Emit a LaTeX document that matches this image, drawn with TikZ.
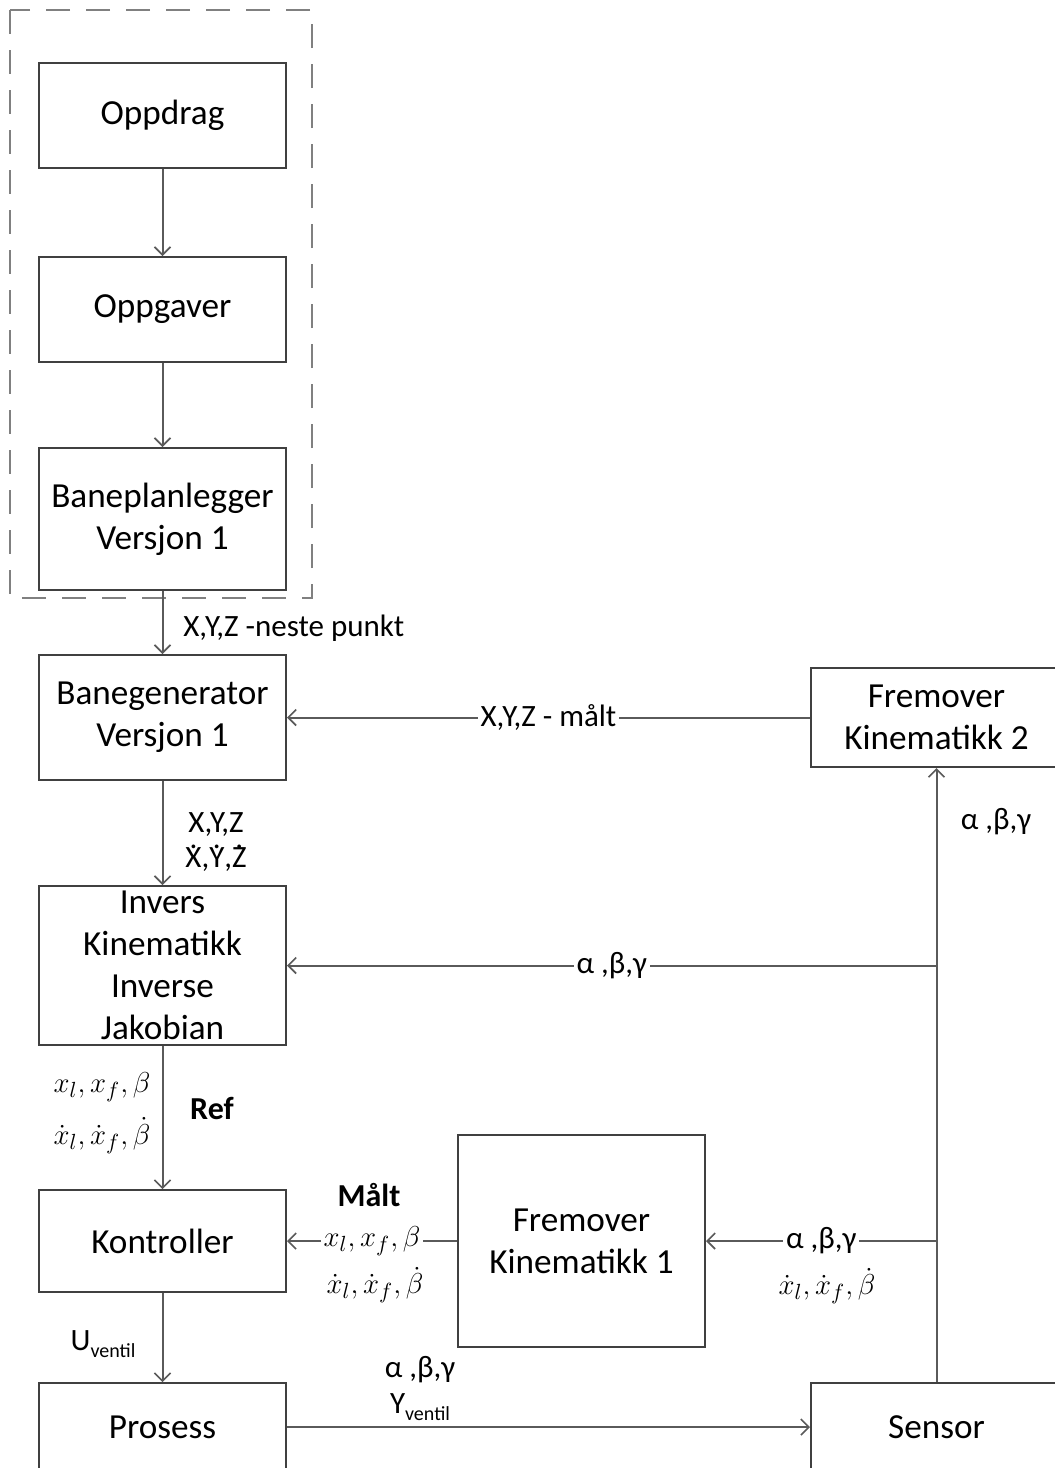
\documentclass[tikz,border=0pt]{standalone}
\usepackage{fontspec}
\setmainfont{Carlito}
\usetikzlibrary{arrows.meta}
\definecolor{boxgray}{HTML}{404040}
\definecolor{linegray}{HTML}{5A5A5A}
\definecolor{dashgray}{HTML}{808080}
% subscript set as small text, and a dot placed over a capital letter
\newcommand{\sub}[1]{\raisebox{-0.45ex}{\fontsize{10}{10}\selectfont #1}}
\newcommand{\dotcap}[1]{{\ooalign{#1\cr\hidewidth\raisebox{0.62em}{.}\hidewidth\cr}}}
\begin{document}
\begin{tikzpicture}[x=0.5pt,y=-0.5pt,
  blk/.style={draw=boxgray, line width=1pt, inner sep=0pt, align=center,
    font=\fontsize{17.6}{21}\selectfont},
  conn/.style={draw=linegray, line width=1pt,
    -{Straight Barb[length=4pt,width=8pt,line width=0.8pt]}},
  lbl/.style={font=\fontsize{15.5}{17.5}\selectfont, inner sep=0.5pt, align=center},
  onl/.style={lbl, fill=white, inner xsep=1.5pt},
  mth/.style={font=\fontsize{15}{19}\selectfont, inner sep=0pt},
  bold/.style={lbl, font=\fontsize{16}{17}\selectfont\bfseries}
]
\clip (0,0) rectangle (1055,1468);
\fill[white] (0,0) rectangle (1055,1468);

% planning group frame
\draw[dashgray, line width=1.2pt, dash pattern=on 12pt off 8pt] (10,10) rectangle (312,598);

% blocks
\node[blk, minimum width=123.5pt, minimum height=52.5pt] (opd) at (162.5,115.5) {Oppdrag};
\node[blk, minimum width=123.5pt, minimum height=52.5pt] (opg) at (162.5,309.5) {Oppgaver};
\node[blk, minimum width=123.5pt, minimum height=71pt]   (bpl) at (162.5,519)   {Baneplanlegger\\Versjon 1};
\node[blk, minimum width=123.5pt, minimum height=62.5pt] (bgn) at (162.5,717.5) {Banegenerator\\Versjon 1};
\node[blk, minimum width=123.5pt, minimum height=79.5pt] (inv) at (162.5,965.5) {Invers\\Kinematikk\\Inverse\\Jakobian};
\node[blk, minimum width=123.5pt, minimum height=51pt]   (kon) at (162.5,1241)  {Kontroller};
\node[blk, minimum width=123.5pt, minimum height=44pt]   (pro) at (162.5,1427)  {Prosess};
\node[blk, minimum width=125.5pt, minimum height=49.5pt] (fk2) at (936.5,717.5) {Fremover\\Kinematikk 2};
\node[blk, minimum width=123.5pt, minimum height=106pt]  (fk1) at (581.5,1241)  {Fremover\\Kinematikk 1};
\node[blk, minimum width=125.5pt, minimum height=44pt]   (sen) at (936.5,1427)  {Sensor};

% junctions on the sensor feedback line
\coordinate (ja) at (sen.north |- inv.east);
\coordinate (jb) at (sen.north |- fk1.east);

% main chain
\draw[conn] (opd) -- (opg);
\draw[conn] (opg) -- (bpl);
\draw[conn] (bpl) -- (bgn);
\draw[conn] (bgn) -- (inv);
\draw[conn] (inv) -- (kon);
\draw[conn] (kon) -- (pro);
\draw[conn] (pro) -- (sen);

% feedback
\draw[conn] (sen.north) -- (fk2.south);
\draw[conn] (fk2.west) -- node[onl] {X,Y,Z - målt} (bgn.east);
\draw[conn] (ja) -- node[onl] {α ,β,γ} (inv.east);
\draw[conn] (jb) -- node[onl] {α ,β,γ} (fk1.east);
\draw[conn] (fk1.west) -- node[mth, fill=white, inner xsep=1.5pt] (mx) {$x_l, x_f, \beta$} (kon.east);

% signal labels
\node[lbl, anchor=west] (l1) at (182,628) {X,Y,Z -neste punkt};
\node[lbl] (l2) at (216,842) {X,Y,Z\\\dotcap{X},\dotcap{Y},\dotcap{Z}};
\node[mth] (l3) at (102,1087) {$x_l, x_f, \beta$};
\node[mth] (l4) at (102,1136) {$\dot{x}_l, \dot{x}_f, \dot{\beta}$};
\node[bold] (l5) at (212,1108) {Ref};
\node[bold] (l6) at (369,1195) {Målt};
\node[mth] (l7) at (375,1285) {$\dot{x}_l, \dot{x}_f, \dot{\beta}$};
\node[mth] (l8) at (827,1286) {$\dot{x}_l, \dot{x}_f, \dot{\beta}$};
\node[lbl] (l9) at (996,822) {α ,β,γ};
\node[lbl] (l10) at (103,1344) {U\sub{ventil}};
\node[lbl] (l11) at (420,1370) {α ,β,γ};
\node[lbl] (l12) at (420,1407) {Y\sub{ventil}};
\end{tikzpicture}
\end{document}
